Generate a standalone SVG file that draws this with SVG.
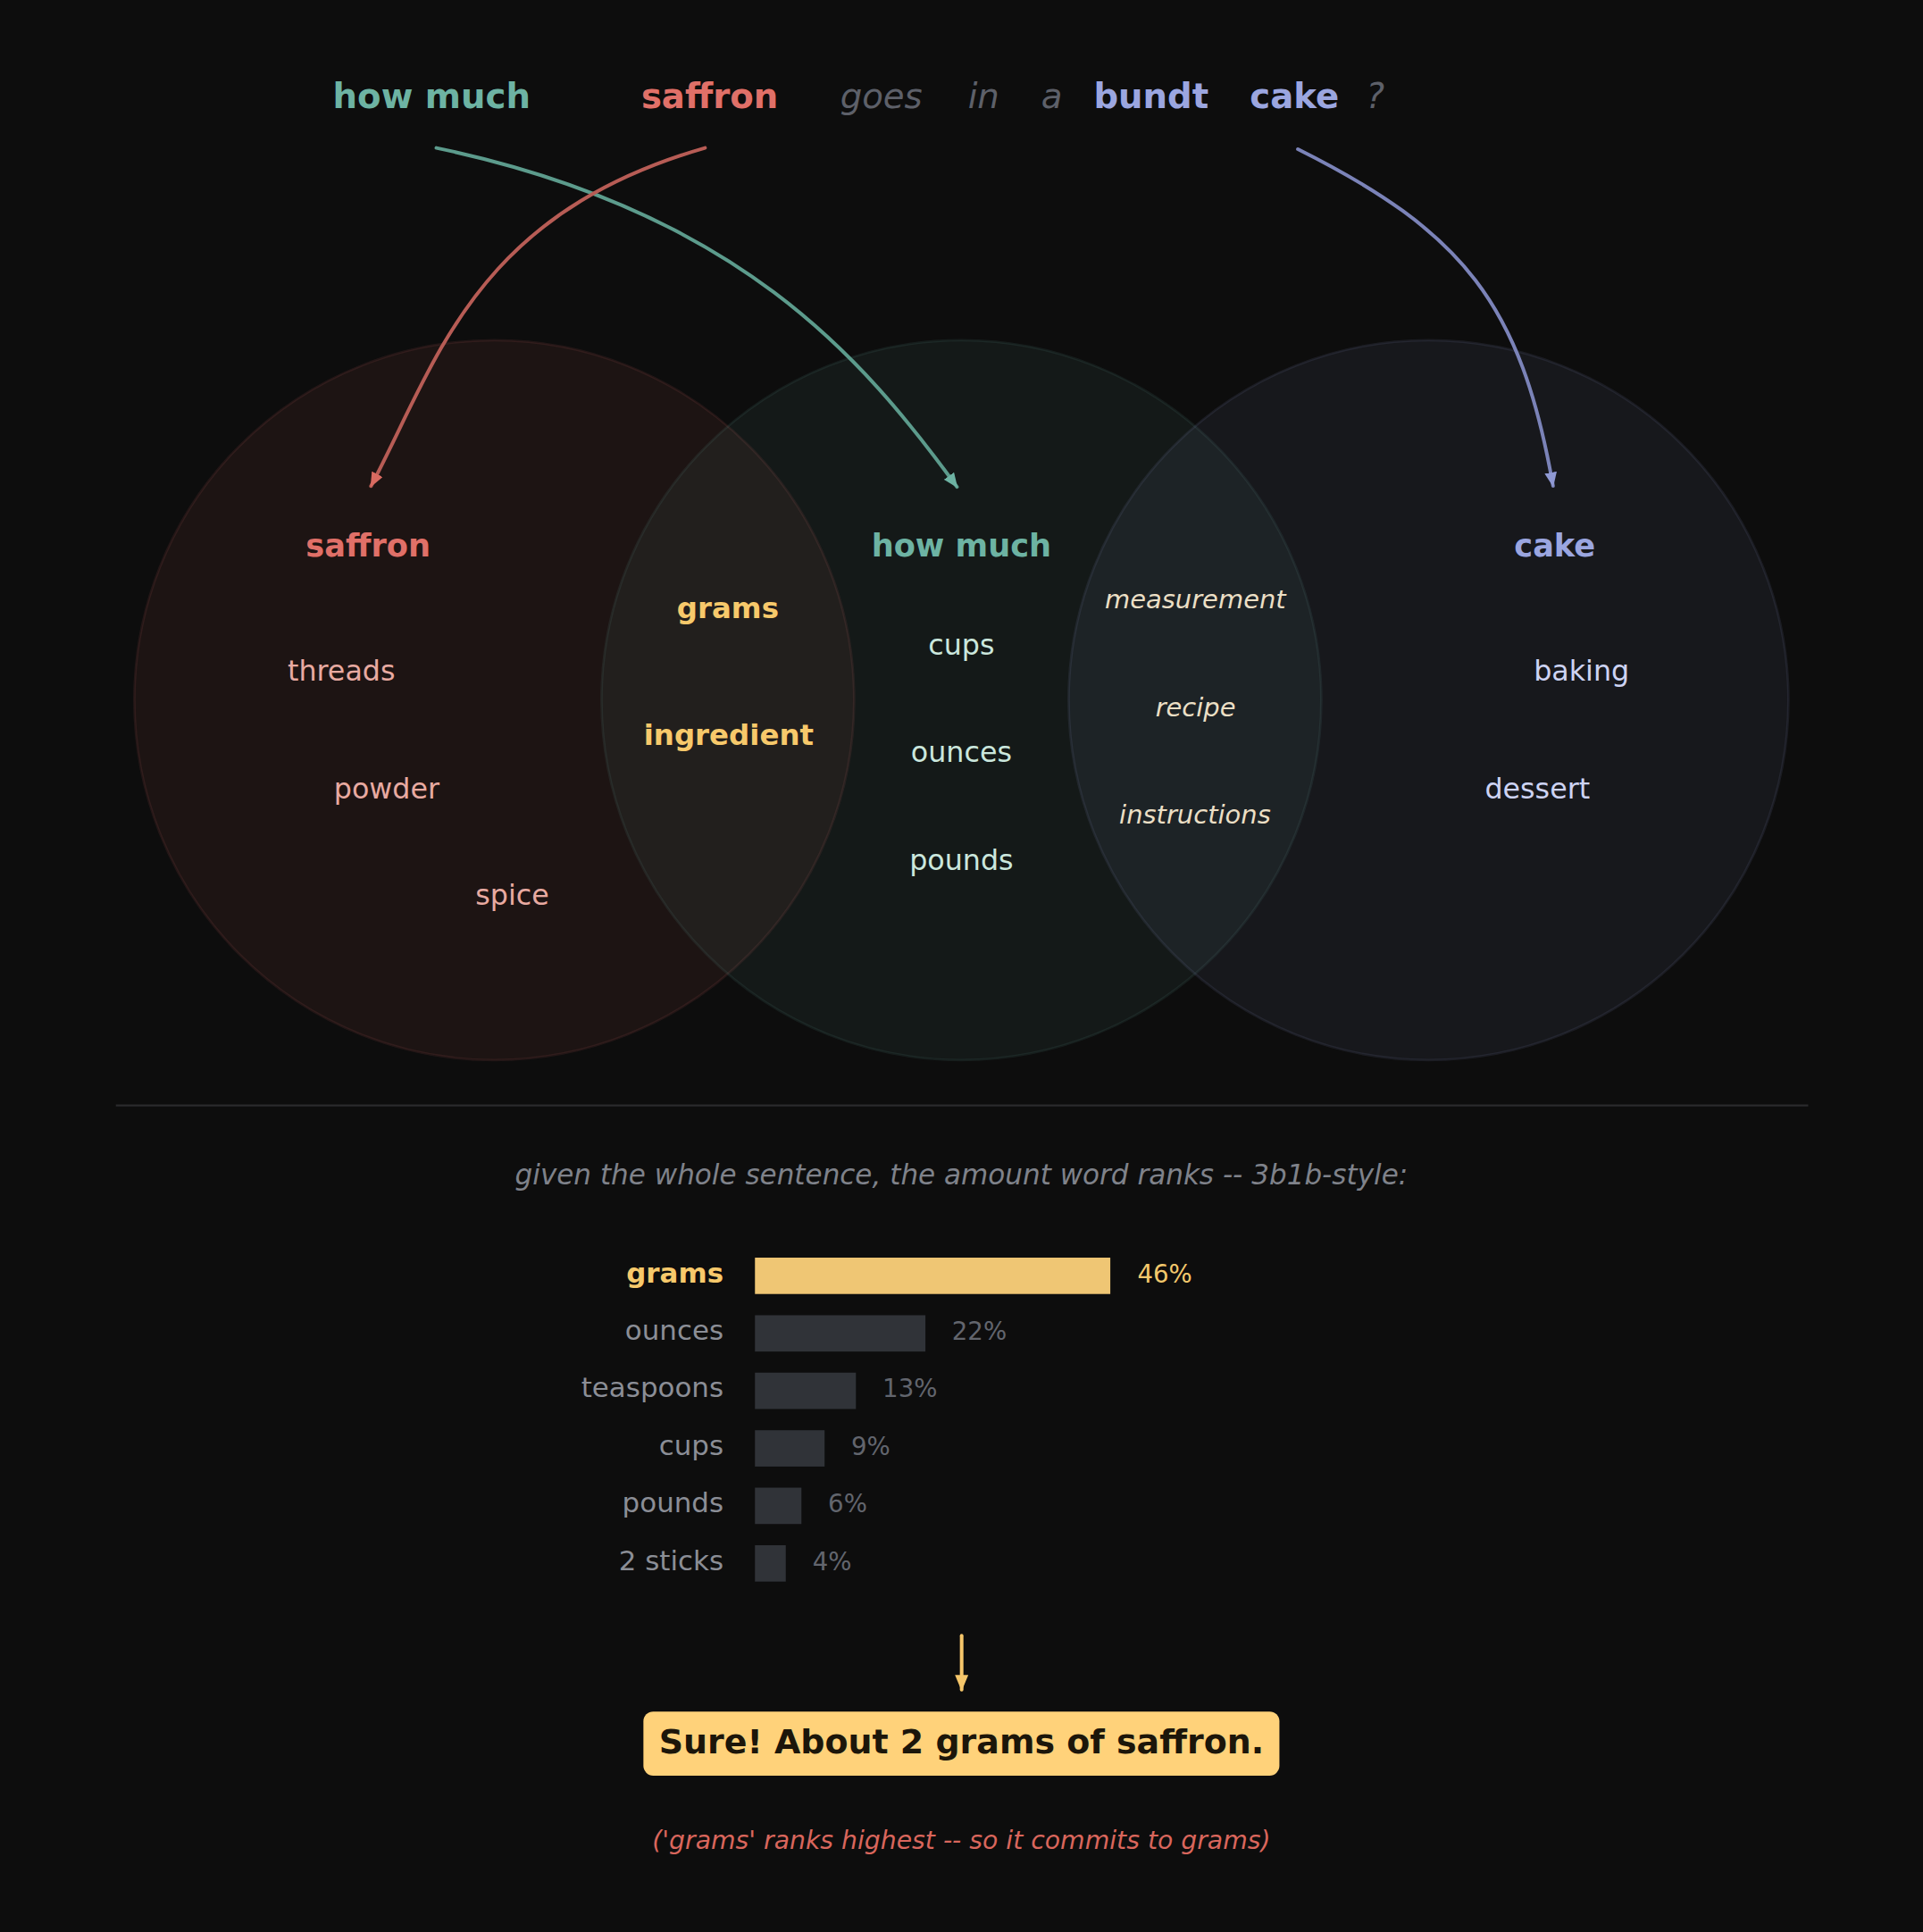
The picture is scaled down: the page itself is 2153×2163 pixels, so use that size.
<svg xmlns="http://www.w3.org/2000/svg" width="2153" height="2163" viewBox="0 0 2153 2163">
<defs>
<style>
text{font-family:"DejaVu Sans","Liberation Sans",sans-serif;}
.b{font-weight:bold}
.i{font-style:italic}
.m{text-anchor:middle}
.e{text-anchor:end}
.top{font-size:28px}
.ttl{font-size:25.5px;font-weight:bold}
.lens{font-size:23.5px;font-weight:bold;fill:#f7c96b}
.w{font-size:23px}
.iw{font-size:21px;font-style:italic;fill:#ebdfc5}
.lbl{font-size:22.4px;fill:#8b8e96}
.pct{font-size:20px;fill:#62656d}
.bar{fill:#303338}
.arr{fill:none;stroke-width:2.9;stroke-linecap:round}
</style>
<marker id="mt" markerUnits="userSpaceOnUse" viewBox="0 0 12 10" refX="11" refY="5" markerWidth="12" markerHeight="10" orient="auto"><path d="M0,0 L12,5 L0,10 z" fill="#6db3a3"/></marker>
<marker id="mr" markerUnits="userSpaceOnUse" viewBox="0 0 12 10" refX="11" refY="5" markerWidth="12" markerHeight="10" orient="auto"><path d="M0,0 L12,5 L0,10 z" fill="#d96a60"/></marker>
<marker id="mb" markerUnits="userSpaceOnUse" viewBox="0 0 12 10" refX="11" refY="5" markerWidth="12" markerHeight="10" orient="auto"><path d="M0,0 L12,5 L0,10 z" fill="#8f99d4"/></marker>
<marker id="mg" markerUnits="userSpaceOnUse" viewBox="0 0 12 10" refX="11" refY="5" markerWidth="13" markerHeight="13" orient="auto"><path d="M0,0 L12,5 L0,10 z" fill="#f5c66a"/></marker>
</defs>
<rect width="2153" height="2163" fill="#0d0d0d"/>
<g transform="scale(1.38)">
<g id="sentence">
<text class="top b m" x="350.2" y="87.4" fill="#6db3a3">how much</text>
<text class="top b m" x="575.8" y="87.4" fill="#e07068">saffron</text>
<text class="top i m" x="715" y="87.4" fill="#5d6069">goes</text>
<text class="top i m" x="798" y="87.4" fill="#5d6069">in</text>
<text class="top i m" x="853.4" y="87.4" fill="#5d6069">a</text>
<text class="top b m" x="933.9" y="87.4" fill="#9ba6e0">bundt</text>
<text class="top b m" x="1050.2" y="87.4" fill="#9ba6e0">cake</text>
<text class="top i m" x="1115.7" y="87.4" fill="#5d6069">?</text>
</g>
<g id="circles">
<circle id="c-saffron" cx="401" cy="568" r="292" fill="#e07068" fill-opacity="0.08" stroke="#e07068" stroke-opacity="0.1" stroke-width="2"/>
<circle id="c-howmuch" cx="780" cy="568" r="292" fill="#6db3a3" fill-opacity="0.07" stroke="#6db3a3" stroke-opacity="0.1" stroke-width="2"/>
<circle id="c-cake" cx="1159" cy="568" r="292" fill="#9ba6e0" fill-opacity="0.07" stroke="#9ba6e0" stroke-opacity="0.1" stroke-width="2"/>
</g>
<g id="connectors">
<path class="arr" d="M354,120 C598,171 700,290 776.4,395" stroke="#5c9b8c" marker-end="url(#mt)"/>
<path class="arr" d="M572,120 C385,174 355,292 301,394.4" stroke="#b75c55" marker-end="url(#mr)"/>
<path class="arr" d="M1053,121 C1187,188 1234,246.5 1260,394.2" stroke="#7b83b8" marker-end="url(#mb)"/>
<path class="arr" d="M780.2,1327 L780.2,1370.8" stroke="#f5c66a" stroke-width="4.2" marker-end="url(#mg)"/>
</g>
<g id="node-saffron">
<text class="ttl m" x="298.7" y="451.4" fill="#e07068">saffron</text>
<text class="w m" x="277" y="552.3" fill="#e8aaa1">threads</text>
<text class="w m" x="313.7" y="647.7" fill="#e8aaa1">powder</text>
<text class="w m" x="415.6" y="734.1" fill="#e8aaa1">spice</text>
</g>
<g id="node-overlap-left">
<text class="lens m" x="590.5" y="501.2">grams</text>
<text class="lens m" x="591.2" y="604.6">ingredient</text>
</g>
<g id="node-howmuch">
<text class="ttl m" x="780" y="451.4" fill="#6db3a3">how much</text>
<text class="w m" x="780" y="531" fill="#cbe7dd">cups</text>
<text class="w m" x="780" y="618.3" fill="#cbe7dd">ounces</text>
<text class="w m" x="780" y="705.5" fill="#cbe7dd">pounds</text>
</g>
<g id="node-overlap-right">
<text class="iw m" x="969.8" y="493.4">measurement</text>
<text class="iw m" x="970" y="581">recipe</text>
<text class="iw m" x="969.5" y="668.1">instructions</text>
</g>
<g id="node-cake">
<text class="ttl m" x="1261.4" y="451.4" fill="#9ba6e0">cake</text>
<text class="w m" x="1283.1" y="552.3" fill="#cdd3f3">baking</text>
<text class="w m" x="1247.3" y="647.7" fill="#cdd3f3">dessert</text>
</g>
<line x1="94" y1="896.8" x2="1467" y2="896.8" stroke="#2a2a2c" stroke-width="1.6"/>
<g id="chart">
<text class="i m" x="780" y="961" font-size="22.5" fill="#7f828a">given the whole sentence, the amount word ranks -- 3b1b-style:</text>
<g id="row-grams">
<text class="e b" x="587" y="1040.3" font-size="22.4" fill="#f7c96b">grams</text>
<rect x="612.5" y="1020.3" width="288.3" height="29.5" fill="#efc674"/>
<text x="922.8" y="1040.3" font-size="20" fill="#f3c86c">46%</text>
</g>
<g id="row-ounces">
<text class="lbl e" x="587" y="1087">ounces</text>
<rect class="bar" x="612.5" y="1067" width="138.3" height="29.5"/>
<text class="pct" x="772.3" y="1087">22%</text>
</g>
<g id="row-teaspoons">
<text class="lbl e" x="587" y="1133.6">teaspoons</text>
<rect class="bar" x="612.5" y="1113.6" width="81.9" height="29.5"/>
<text class="pct" x="716" y="1133.6">13%</text>
</g>
<g id="row-cups">
<text class="lbl e" x="587" y="1180.3">cups</text>
<rect class="bar" x="612.5" y="1160.3" width="56.5" height="29.5"/>
<text class="pct" x="690.6" y="1180.3">9%</text>
</g>
<g id="row-pounds">
<text class="lbl e" x="587" y="1226.9">pounds</text>
<rect class="bar" x="612.5" y="1206.9" width="37.7" height="29.5"/>
<text class="pct" x="671.8" y="1226.9">6%</text>
</g>
<g id="row-2sticks">
<text class="lbl e" x="587" y="1273.6">2 sticks</text>
<rect class="bar" x="612.5" y="1253.6" width="25" height="29.5"/>
<text class="pct" x="659.2" y="1273.6">4%</text>
</g>
</g>
<g id="answer">
<rect x="522" y="1388.5" width="516" height="52" rx="8" fill="#ffd27a"/>
<text class="b m" x="780" y="1422.5" font-size="27.5" fill="#1c160a">Sure! About 2 grams of saffron.</text>
</g>
<text class="i m" x="780" y="1500.3" font-size="20.5" fill="#d9665c">('grams' ranks highest -- so it commits to grams)</text>
</g>
</svg>
